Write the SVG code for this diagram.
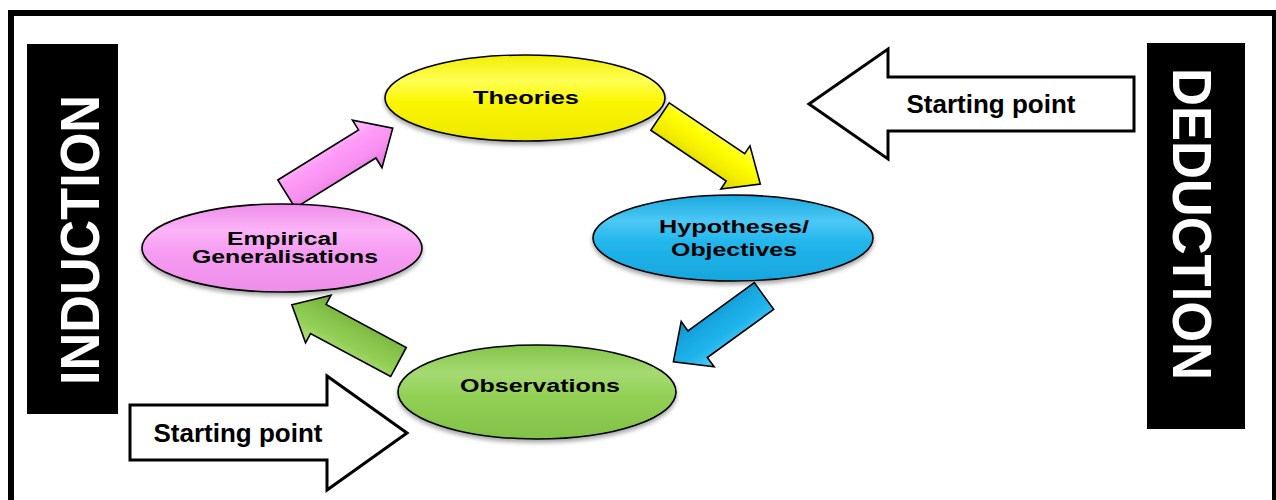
<svg xmlns="http://www.w3.org/2000/svg" width="1276" height="500" viewBox="0 0 1276 500">
<style>
.lbl{font-family:"Liberation Sans",Arial,sans-serif;font-weight:bold;fill:#000;}
.node{font-size:18px;}
.big{font-family:"Liberation Sans",Arial,sans-serif;font-weight:bold;fill:#fff;font-size:56px;}
.sp{font-size:26px;}
.ell{stroke:#000;stroke-width:1.6;filter:url(#sh);}
.arr{stroke:#000;stroke-width:1.6;stroke-linejoin:miter;}
.blk{fill:#000;}
.wa{fill:#fff;stroke:#000;stroke-width:3;}
</style>
<defs>
<filter id="sh" x="-10%" y="-10%" width="120%" height="140%">
<feDropShadow dx="0" dy="3" stdDeviation="2" flood-color="#000" flood-opacity="0.35"/>
</filter>
<linearGradient id="gY" x1="0" y1="0" x2="0" y2="1"><stop offset="0" stop-color="#F2EE00"/><stop offset="0.3" stop-color="#FFFF55"/><stop offset="0.55" stop-color="#FAF600"/><stop offset="1" stop-color="#EDE800"/></linearGradient>
<linearGradient id="gB" x1="0" y1="0" x2="0" y2="1"><stop offset="0" stop-color="#1AA8E0"/><stop offset="0.3" stop-color="#4CC8F4"/><stop offset="0.55" stop-color="#22B6EC"/><stop offset="1" stop-color="#17A6DE"/></linearGradient>
<linearGradient id="gP" x1="0" y1="0" x2="0" y2="1"><stop offset="0" stop-color="#F08CEB"/><stop offset="0.3" stop-color="#FBB4F7"/><stop offset="0.55" stop-color="#F69CF2"/><stop offset="1" stop-color="#EE8EEA"/></linearGradient>
<linearGradient id="gG" x1="0" y1="0" x2="0" y2="1"><stop offset="0" stop-color="#84C44A"/><stop offset="0.3" stop-color="#A6DA72"/><stop offset="0.55" stop-color="#92D055"/><stop offset="1" stop-color="#82C248"/></linearGradient>
<linearGradient id="aY" x1="0" y1="0" x2="0" y2="1"><stop offset="0" stop-color="#FFFF70"/><stop offset="0.35" stop-color="#FFFF00"/><stop offset="0.65" stop-color="#F4EE00"/><stop offset="1" stop-color="#D8D000"/></linearGradient>
<linearGradient id="aB" x1="0" y1="0" x2="0" y2="1"><stop offset="0" stop-color="#5CCDF6"/><stop offset="0.35" stop-color="#1FB4EC"/><stop offset="0.65" stop-color="#18A8E2"/><stop offset="1" stop-color="#1090C8"/></linearGradient>
<linearGradient id="aP" x1="0" y1="0" x2="0" y2="1"><stop offset="0" stop-color="#FFC4FB"/><stop offset="0.35" stop-color="#FF9BF7"/><stop offset="0.65" stop-color="#F890F2"/><stop offset="1" stop-color="#E27ADC"/></linearGradient>
<linearGradient id="aG" x1="0" y1="0" x2="0" y2="1"><stop offset="0" stop-color="#B4E080"/><stop offset="0.35" stop-color="#92CF55"/><stop offset="0.65" stop-color="#86C24A"/><stop offset="1" stop-color="#6FA83A"/></linearGradient>
</defs>
<rect x="11" y="13" width="1264" height="600" fill="#fff" stroke="#000" stroke-width="6"/>
<g id="induction">
<rect class="blk" x="27" y="44" width="91" height="370"/>
<text class="big" transform="translate(99,240) rotate(-90)" text-anchor="middle" textLength="290" lengthAdjust="spacingAndGlyphs">INDUCTION</text>
</g>
<g id="deduction">
<rect class="blk" x="1147" y="43" width="98" height="386"/>
<text class="big" transform="translate(1173,224) rotate(90)" text-anchor="middle" textLength="312" lengthAdjust="spacingAndGlyphs">DEDUCTION</text>
</g>
<g id="connectors">
<polygon class="arr" fill="url(#aP)" transform="translate(286.5,194) rotate(-31.8)" points="0,-16.5 95,-16.5 95,-28 125,0 95,28 95,16.5 0,16.5"/>
<polygon class="arr" fill="url(#aY)" transform="translate(660,116.5) rotate(34)" points="0,-16.5 91,-16.5 91,-26 121,0 91,26 91,16.5 0,16.5"/>
<polygon class="arr" fill="url(#aB)" transform="translate(764,296) rotate(144)" points="0,-16.5 82,-16.5 82,-28 112,0 82,28 82,16.5 0,16.5"/>
<polygon class="arr" fill="url(#aG)" transform="translate(398.5,362) rotate(208.2)" points="0,-16.5 91,-16.5 91,-27 121,0 91,27 91,16.5 0,16.5"/>
</g>
<g id="theories">
<ellipse class="ell" fill="url(#gY)" cx="525" cy="98" rx="140" ry="43"/>
<text class="lbl node" x="526" y="104" text-anchor="middle" textLength="106" lengthAdjust="spacingAndGlyphs">Theories</text>
</g>
<g id="hypotheses">
<ellipse class="ell" fill="url(#gB)" cx="733" cy="238" rx="140" ry="43"/>
<text class="lbl node" x="734" y="233" text-anchor="middle" textLength="150" lengthAdjust="spacingAndGlyphs">Hypotheses/</text>
<text class="lbl node" x="734" y="256" text-anchor="middle" textLength="126" lengthAdjust="spacingAndGlyphs">Objectives</text>
</g>
<g id="empirical">
<ellipse class="ell" fill="url(#gP)" cx="282" cy="248" rx="140" ry="44"/>
<text class="lbl node" x="282.5" y="245" text-anchor="middle" textLength="111" lengthAdjust="spacingAndGlyphs">Empirical</text>
<text class="lbl node" x="285" y="263" text-anchor="middle" textLength="186" lengthAdjust="spacingAndGlyphs">Generalisations</text>
</g>
<g id="observations">
<ellipse class="ell" fill="url(#gG)" cx="537" cy="392" rx="139" ry="47"/>
<text class="lbl node" x="540" y="392" text-anchor="middle" textLength="160" lengthAdjust="spacingAndGlyphs">Observations</text>
</g>
<g id="start-deduction">
<polygon class="wa" points="1134,77 888,77 888,49 809,104 888,159 888,131 1134,131"/>
<text class="lbl sp" x="991" y="113" text-anchor="middle">Starting point</text>
</g>
<g id="start-induction">
<polygon class="wa" points="130,405 327,405 327,376 407,433 327,490 327,460 130,460"/>
<text class="lbl sp" x="238" y="442" text-anchor="middle">Starting point</text>
</g>
</svg>
